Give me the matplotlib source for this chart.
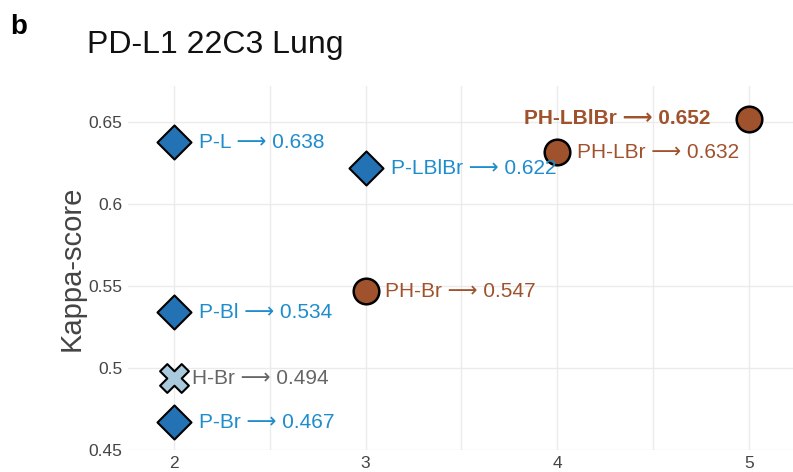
import matplotlib.pyplot as plt
from matplotlib.ticker import MultipleLocator

plt.rcParams["font.family"] = ["Liberation Sans", "DejaVu Sans"]

# --- data ---
p_names = ["P-L", "P-LBlBr", "P-Bl", "P-Br"]
p_x = [2, 3, 2, 2]
p_y = [0.638, 0.622, 0.534, 0.467]

h_names = ["H-Br"]
h_x = [2]
h_y = [0.494]

ph_names = ["PH-Br", "PH-LBr", "PH-LBlBr"]
ph_x = [3, 4, 5]
ph_y = [0.547, 0.632, 0.652]

BLUE = "#2272b4"
BLUE_TXT = "#1f8ccc"
LIGHT = "#a9c9dc"
BROWN = "#a0522d"
GRAY_TXT = "#666666"
ARROW = "\u27f6"

fig = plt.figure(figsize=(7.93, 4.72), dpi=100)
ax = fig.add_axes([128 / 793, 22 / 472, 665 / 793, 364 / 472])

ax.scatter(p_x, p_y, marker="D", s=300, color=BLUE, edgecolor="black",
           linewidth=1.5, zorder=3)
ax.scatter(h_x, h_y, marker="X", s=430, color=LIGHT, edgecolor="black",
           linewidth=1.5, zorder=3)
ax.scatter(ph_x, ph_y, marker="o", s=340, color=BROWN, edgecolor="black",
           linewidth=1.8, zorder=3)

FS = 15

# labels
for n, x, y in zip(p_names, p_x, p_y):
    ax.annotate(f"{n} {ARROW} {y:.3f}", (x, y), xytext=(18, -0.5),
                textcoords="offset points", va="center", ha="left",
                fontsize=FS, color=BLUE_TXT)
for n, x, y in zip(h_names, h_x, h_y):
    ax.annotate(f"{n} {ARROW} {y:.3f}", (x, y), xytext=(13, -0.5),
                textcoords="offset points", va="center", ha="left",
                fontsize=FS, color=GRAY_TXT)
for n, x, y in zip(ph_names, ph_x, ph_y):
    if y == max(ph_y):
        ax.annotate(f"{n} {ARROW} {y:.3f}", (x, y), xytext=(-28, 0),
                    textcoords="offset points", va="center", ha="right",
                    fontsize=FS, color=BROWN, fontweight="bold")
    else:
        ax.annotate(f"{n} {ARROW} {y:.3f}", (x, y), xytext=(14, -0.5),
                    textcoords="offset points", va="center", ha="left",
                    fontsize=FS, color=BROWN)

ax.set_xlim(1.76, 5.23)
ax.set_ylim(0.45, 0.672)
ax.xaxis.set_major_locator(MultipleLocator(1))
ax.xaxis.set_minor_locator(MultipleLocator(0.5))
ax.set_yticks([0.45, 0.5, 0.55, 0.6, 0.65])
ax.set_yticklabels(["0.45", "0.5", "0.55", "0.6", "0.65"])
ax.grid(True, which="both", color="#ebebeb", linewidth=1)
ax.set_axisbelow(True)
for s in ax.spines.values():
    s.set_visible(False)
ax.tick_params(which="both", length=0, labelsize=12.5, colors="#444444")
ax.tick_params(axis="y", pad=4)
ax.tick_params(axis="x", pad=4)
ax.set_ylabel("Kappa-score", fontsize=21, color="#444444", labelpad=2)

fig.text(87 / 793, 1 - 45 / 472, "PD-L1 22C3 Lung", fontsize=23, color="#111111",
         va="center")
fig.text(10 / 793, 1 - 27 / 472, "b", fontsize=20, fontweight="bold", va="center")
# cut-off tick labels of the panel above
fig.text(545 / 793, 1 + 4 / 472, "2", fontsize=12.5, color="#444444",
         ha="center", va="center")
fig.text(790 / 793, 1 + 4 / 472, "3", fontsize=12.5, color="#444444",
         ha="center", va="center")

fig.savefig("out.png", dpi=100)
